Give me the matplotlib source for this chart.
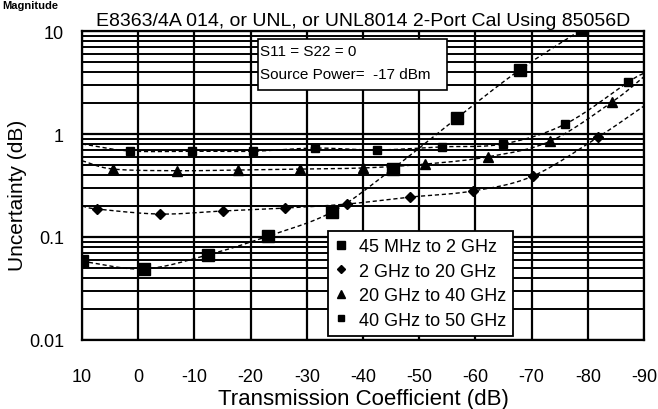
import numpy as np
import matplotlib
matplotlib.use("Agg")
import matplotlib.pyplot as plt
from matplotlib.patches import Rectangle
from matplotlib.ticker import FixedLocator, LogLocator, NullFormatter

plt.rcParams['font.family'] = ['Liberation Sans', 'DejaVu Sans']

title = "E8363/4A 014, or UNL, or UNL8014 2-Port Cal Using 85056D"
xlabel = "Transmission Coefficient (dB)"
ylabel = "Uncertainty (dB)"
x_ticks = [10, 0, -10, -20, -30, -40, -50, -60, -70, -80, -90]
x_ticklabels = ["10", "0", "-10", "-20", "-30", "-40", "-50", "-60", "-70", "-80", "-90"]
y_ticks = [0.01, 0.1, 1, 10]
y_ticklabels = ["0.01", "0.1", "1", "10"]

labels = ["45 MHz to 2 GHz", "2 GHz to 20 GHz", "20 GHz to 40 GHz", "40 GHz to 50 GHz"]

# marker data
s1_x = [10, -1, -12.4, -23.1, -34.5, -45.3, -56.7, -67.9, -79]
s1_y = [0.058, 0.049, 0.067, 0.102, 0.175, 0.46, 1.43, 4.2, 10.4]

s2_x = [7.3, -3.9, -15.1, -26.1, -37.2, -48.4, -59.6, -70.2, -81.8]
s2_y = [0.187, 0.167, 0.179, 0.191, 0.209, 0.244, 0.28, 0.39, 0.93]

s3_x = [4.5, -6.9, -17.8, -28.8, -40, -51, -62.2, -73.3, -84.3]
s3_y = [0.457, 0.44, 0.447, 0.457, 0.468, 0.51, 0.6, 0.85, 2.04]

s4_x = [1.5, -9.6, -20.4, -31.5, -42.5, -54, -64.9, -76, -87.2]
s4_y = [0.684, 0.68, 0.68, 0.73, 0.70, 0.75, 0.8, 1.25, 3.2]

# where the dashed curves meet the left (x=10) and right (x=-90) edges
curve_start_y = [None, 0.20, 0.55, 0.80]
curve_end_y = [None, 1.87, 3.6, 3.9]

series = [
    (s1_x, s1_y, 's', 8),
    (s2_x, s2_y, 'D', 5),
    (s3_x, s3_y, '^', 7),
    (s4_x, s4_y, 's', 6),
]


def catmull_rom(px, py, n=20):
    px = np.asarray(px, float)
    py = np.asarray(py, float)
    P = np.column_stack([px, py])
    P = np.vstack([2 * P[0] - P[1], P, 2 * P[-1] - P[-2]])
    out = []
    t = np.linspace(0, 1, n, endpoint=False)[:, None]
    for i in range(1, len(P) - 2):
        p0, p1, p2, p3 = P[i - 1], P[i], P[i + 1], P[i + 2]
        seg = 0.5 * ((2 * p1) + (-p0 + p2) * t +
                     (2 * p0 - 5 * p1 + 4 * p2 - p3) * t ** 2 +
                     (-p0 + 3 * p1 - 3 * p2 + p3) * t ** 3)
        out.append(seg)
    out.append(P[-2][None, :])
    out = np.vstack(out)
    return out[:, 0], out[:, 1]


fig = plt.figure(figsize=(6.58, 4.10), dpi=100)
ax = fig.add_axes([82/658, 69/410, 562/658, 309/410])

ax.set_yscale('log')
ax.set_xlim(10, -90)
ax.set_ylim(0.01, 10)

handles = []
for (xs, ys, mk, ms), lab, y0, y1 in zip(series, labels, curve_start_y, curve_end_y):
    cx = list(xs)
    cy = list(ys)
    if y0 is not None:
        cx = [10] + cx
        cy = [y0] + cy
    if y1 is not None:
        cx = cx + [-90]
        cy = cy + [y1]
    lx, ly = catmull_rom(cx, np.log10(cy))
    ax.plot(lx, 10 ** ly, color='black', lw=1.0, dashes=(3, 2), zorder=3)
    h, = ax.plot(xs, ys, linestyle='none', marker=mk, ms=ms, color='black',
                 zorder=4, label=lab)
    handles.append(h)

ax.xaxis.set_major_locator(FixedLocator(x_ticks))
ax.set_xticklabels(x_ticklabels)
ax.yaxis.set_major_locator(FixedLocator(y_ticks))
ax.set_yticklabels(y_ticklabels)
ax.yaxis.set_minor_locator(LogLocator(base=10, subs=np.arange(2, 10)))
ax.yaxis.set_minor_formatter(NullFormatter())
ax.tick_params(axis='both', which='both', length=0, labelsize=13)
ax.tick_params(axis='x', pad=20)
ax.tick_params(axis='y', pad=13)

ax.grid(True, which='major', axis='both', color='black', lw=1.6, zorder=1)
ax.grid(True, which='minor', axis='y', color='black', lw=1.4, zorder=1)
for sp in ax.spines.values():
    sp.set_linewidth(1.6)

ax.set_xlabel(xlabel, fontsize=16, labelpad=2)
ax.set_ylabel(ylabel, fontsize=15)
ax.yaxis.set_label_coords((27 - 82) / 562, 0.47)
ax.set_title(title, fontsize=14, pad=4)

# info box
ax.add_patch(Rectangle((0.313, 0.809), 0.337, 0.165, transform=ax.transAxes,
                       facecolor='white', edgecolor='black', lw=1.2, zorder=5))
ax.text(0.316, 0.935, "S11 = S22 = 0", transform=ax.transAxes, fontsize=11,
        va='center', ha='left', zorder=6)
ax.text(0.316, 0.862, "Source Power=  -17 dBm", transform=ax.transAxes, fontsize=11,
        va='center', ha='left', zorder=6)

leg = ax.legend(handles=handles, loc='lower left', bbox_to_anchor=(0.438, 0.013),
                frameon=True, fancybox=False, edgecolor='black', framealpha=1,
                fontsize=13, handlelength=0.6, handletextpad=0.7,
                borderpad=0.4, labelspacing=0.42, markerscale=0.8,
                borderaxespad=0)
leg.get_frame().set_linewidth(1.3)
leg.set_zorder(7)

fig.text(0.004, 0.998, "Magnitude", fontsize=8, fontweight='bold', va='top', ha='left')

fig.savefig("out.png", dpi=100)
